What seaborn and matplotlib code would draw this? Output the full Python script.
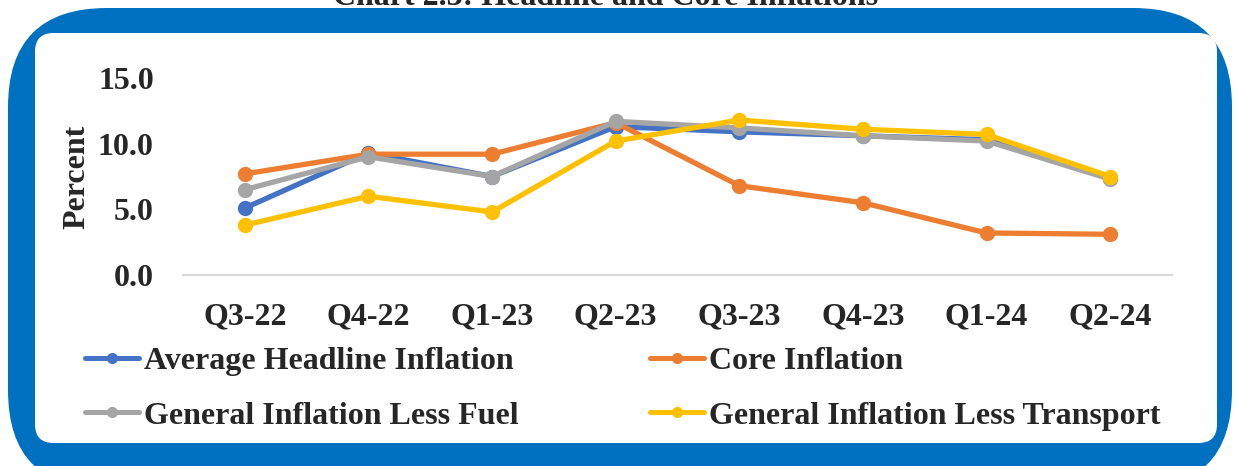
import numpy as np
import pandas as pd
import matplotlib
matplotlib.use("Agg")
import matplotlib.pyplot as plt
import seaborn as sns
from matplotlib.patches import FancyBboxPatch

# Data
quarters = ["Q3-22", "Q4-22", "Q1-23", "Q2-23", "Q3-23", "Q4-23", "Q1-24", "Q2-24"]
headline = [5.1, 9.3, 7.5, 11.3, 10.9, 10.6, 10.3, 7.4]
core = [7.7, 9.2, 9.2, 11.6, 6.8, 5.5, 3.2, 3.1]
less_fuel = [6.5, 9.0, 7.5, 11.7, 11.2, 10.6, 10.2, 7.3]
less_transport = [3.8, 6.0, 4.8, 10.2, 11.8, 11.1, 10.7, 7.5]

series_names = ["Average Headline Inflation", "Core Inflation",
                "General Inflation Less Fuel", "General Inflation Less Transport"]
colors = ["#4472C4", "#ED7D31", "#A5A5A5", "#FFC000"]

df = pd.DataFrame({
    "Quarter": quarters * 4,
    "Value": headline + core + less_fuel + less_transport,
    "Series": np.repeat(series_names, len(quarters)),
})

sns.set_style("white")
plt.rcParams["font.family"] = ["Liberation Serif", "DejaVu Serif"]
plt.rcParams["font.weight"] = "bold"
FS = 23

fig = plt.figure(figsize=(12.39, 4.66), dpi=100)

# blue rounded frame with white panel
W, H = 1239, 466
outer = FancyBboxPatch((8 / W, -0.05), 1224 / W, 1.05 - 8 / H,
                       boxstyle="round,pad=0,rounding_size=0.08",
                       transform=fig.transFigure, facecolor="#0070C0",
                       edgecolor="none", zorder=0, mutation_aspect=W / H)
inner = FancyBboxPatch((35 / W, 1 - 443 / H), 1182 / W, (443 - 33) / H,
                       boxstyle="round,pad=0,rounding_size=0.015",
                       transform=fig.transFigure, facecolor="white",
                       edgecolor="none", zorder=1, mutation_aspect=W / H)
fig.patches.extend([outer, inner])

fig.text(606 / W, 1 - 5 / H, "Chart 2.3: Headline and Core Inflations",
         ha="center", va="baseline", fontsize=FS, fontweight="bold")

ax = fig.add_axes([183 / W, 1 - 275 / H, 989 / W, 197 / H])
ax.set_zorder(2)
ax.patch.set_alpha(0)

sns.lineplot(data=df, x="Quarter", y="Value", hue="Series", palette=colors,
             marker="o", markersize=11, markeredgewidth=0, linewidth=3.8,
             sort=False, ax=ax, legend=False)

ax.set_xlim(-0.5, 7.5)
ax.set_ylim(0, 15)
ax.set_yticks([0, 5, 10, 15])
ax.set_yticklabels([f"{v:.1f}" for v in [0, 5, 10, 15]], fontsize=FS, fontweight="bold")
ax.set_xticks(range(len(quarters)))
ax.set_xticklabels(quarters, fontsize=FS, fontweight="bold")
ax.set_xticks(np.arange(-0.5, 8, 1), minor=True)
ax.tick_params(axis="x", which="major", length=0, pad=20)
ax.tick_params(axis="x", which="minor", length=8, color="#D9D9D9", width=1.5)
ax.tick_params(axis="y", length=0, pad=21)
ax.set_xlabel("")
ax.set_ylabel("Percent", fontsize=FS, fontweight="bold", labelpad=5)
for side in ["top", "right", "left"]:
    ax.spines[side].set_visible(False)
ax.spines["bottom"].set_color("#D9D9D9")
ax.spines["bottom"].set_linewidth(1.5)

# legend filled column-wise, so order gives rows: headline/core, fuel/transport
order = [0, 2, 1, 3]
handles = [plt.Line2D([], [], color=colors[i], lw=3.6, marker="o", markersize=7)
           for i in order]
labels = [series_names[i] for i in order]
leg = fig.legend(handles, labels, loc="upper left",
                 bbox_to_anchor=(85 / W, 1 - 347 / H), ncol=2, frameon=False,
                 prop={"size": FS, "weight": "bold"}, handlelength=1.7,
                 handletextpad=0.15, columnspacing=4.1, labelspacing=0.78,
                 borderpad=0, borderaxespad=0)
leg.set_zorder(3)

fig.savefig("out.png", dpi=100)
